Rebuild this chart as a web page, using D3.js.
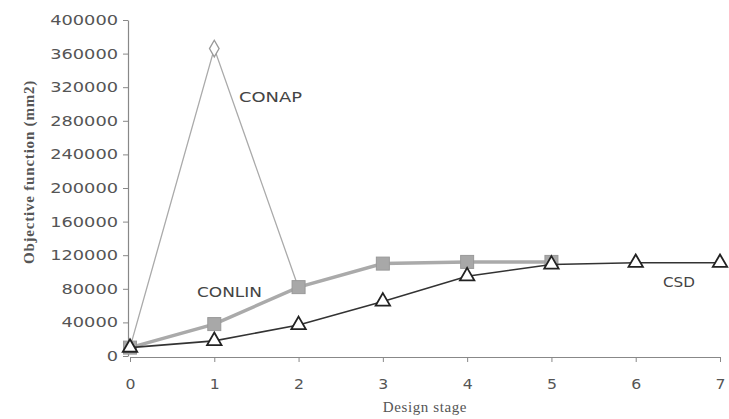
<!DOCTYPE html>
<html>
<head>
<meta charset="utf-8">
<script src="https://cdn.jsdelivr.net/npm/d3@7"></script>
<style>
  html, body { margin: 0; padding: 0; background: #fff; }
  svg { display: block; }
</style>
</head>
<body>
<svg id="chart" width="729" height="419"></svg>
<script>
// Design stages and objective-function history for each optimiser
const stages = [0, 1, 2, 3, 4, 5, 6, 7];
const conapStages = [0, 1, 2];
const conapValues = [10000, 366000, 81000];
const conlinStages = [0, 1, 2, 3, 4, 5];
const conlinValues = [10000, 38000, 82000, 110000, 112000, 112000];
const csdStages = [0, 1, 2, 3, 4, 5, 6, 7];
const csdValues = [10000, 18000, 37000, 65000, 95000, 109000, 111000, 111000];
const yTicks = [0, 40000, 80000, 120000, 160000, 200000, 240000, 280000, 320000, 360000, 400000];

const svg = d3.select("#chart");
const margin = { left: 130, right: 9, top: 20, bottom: 63 };
const W = 729, H = 419;

const x = d3.scaleLinear().domain([0, 7]).range([margin.left, W - margin.right]);
const y = d3.scaleLinear().domain([0, 400000]).range([H - margin.bottom, margin.top]);

const tickColor = "#555";
const sans = "DejaVu Sans, Verdana, sans-serif";
const serif = "Liberation Serif, DejaVu Serif, serif";

// Wide digits: stretch each tick label to a fixed advance per character
const widen = (sel, perChar) => sel
  .attr("textLength", function () { return this.textContent.length * perChar; })
  .attr("lengthAdjust", "spacingAndGlyphs");

// Y axis
const yAxis = svg.append("g")
  .attr("transform", `translate(${margin.left - 2},0)`)
  .call(d3.axisLeft(y).tickValues(yTicks).tickSize(5).tickSizeOuter(0).tickFormat(d3.format("d")));
yAxis.select(".domain").attr("stroke", "#888").attr("stroke-width", 1.2);
yAxis.selectAll(".tick line").attr("stroke", "#888");
yAxis.selectAll(".tick text").attr("fill", tickColor)
  .attr("font-family", sans).attr("font-size", 14)
  .attr("x", -10).call(widen, 11.3);

// X axis
const xAxis = svg.append("g")
  .attr("transform", `translate(0,${y(0) + 1})`)
  .call(d3.axisBottom(x).tickValues(stages).tickSize(5).tickSizeOuter(0).tickFormat(d3.format("d")));
xAxis.select(".domain").attr("stroke", "#888").attr("stroke-width", 1.2);
xAxis.selectAll(".tick line").attr("stroke", "#888");
xAxis.selectAll(".tick text").attr("fill", tickColor)
  .attr("font-family", sans).attr("font-size", 14).attr("y", 32).attr("dy", 0)
  .call(widen, 10);

// Axis titles
svg.append("text")
  .attr("x", 425).attr("y", 412)
  .attr("text-anchor", "middle")
  .attr("font-family", serif)
  .attr("font-size", 15).attr("letter-spacing", 0.6).attr("fill", "#555")
  .text("Design stage");
svg.append("text")
  .attr("transform", `translate(34,172) rotate(-90)`)
  .attr("text-anchor", "middle")
  .attr("font-family", serif)
  .attr("font-size", 15).attr("font-weight", "bold").attr("letter-spacing", 0.8).attr("fill", "#555")
  .text("Objective function (mm2)");

const line = d3.line().x(d => x(d[0])).y(d => y(d[1]));
const zip = (a, b) => a.map((v, i) => [v, b[i]]);

// CONAP
const conap = zip(conapStages, conapValues);
svg.append("path").datum(conap).attr("d", line)
  .attr("fill", "none").attr("stroke", "#aaa").attr("stroke-width", 1.3);

// CONLIN
const conlin = zip(conlinStages, conlinValues);
svg.append("path").datum(conlin).attr("d", line)
  .attr("fill", "none").attr("stroke", "#aaa").attr("stroke-width", 3.5);
svg.selectAll(".sq").data(conlin).enter().append("rect")
  .attr("x", d => x(d[0]) - 6.5).attr("y", d => y(d[1]) - 6.5)
  .attr("width", 13).attr("height", 13)
  .attr("fill", "#a8a8a8").attr("stroke", "#999").attr("stroke-width", 1);

// CSD
const csd = zip(csdStages, csdValues);
svg.append("path").datum(csd).attr("d", line)
  .attr("fill", "none").attr("stroke", "#333").attr("stroke-width", 1.6);
const tri = d3.symbol().type(d3.symbolTriangle).size(90);
svg.selectAll(".tri").data(csd).enter().append("path")
  .attr("d", tri)
  .attr("transform", d => `translate(${x(d[0])},${y(d[1])})`)
  .attr("fill", "#fff").attr("stroke", "#222").attr("stroke-width", 1.8);

// CONAP diamond marker at its peak
const dia = d3.symbol().type(d3.symbolDiamond).size(80);
svg.selectAll(".dia").data(conap.slice(1, 2)).enter().append("path")
  .attr("d", dia)
  .attr("transform", d => `translate(${x(d[0])},${y(d[1])})`)
  .attr("fill", "#fff").attr("stroke", "#999").attr("stroke-width", 1.3);

// Series labels
const label = (tx, ty, txt, len) => svg.append("text")
  .attr("x", tx).attr("y", ty).text(txt)
  .attr("font-family", sans).attr("font-size", 13.5).attr("fill", "#444")
  .attr("textLength", len).attr("lengthAdjust", "spacingAndGlyphs");
label(239, 102, "CONAP", 63);
label(197, 297, "CONLIN", 65);
label(663, 287, "CSD", 32);
</script>
</body>
</html>
